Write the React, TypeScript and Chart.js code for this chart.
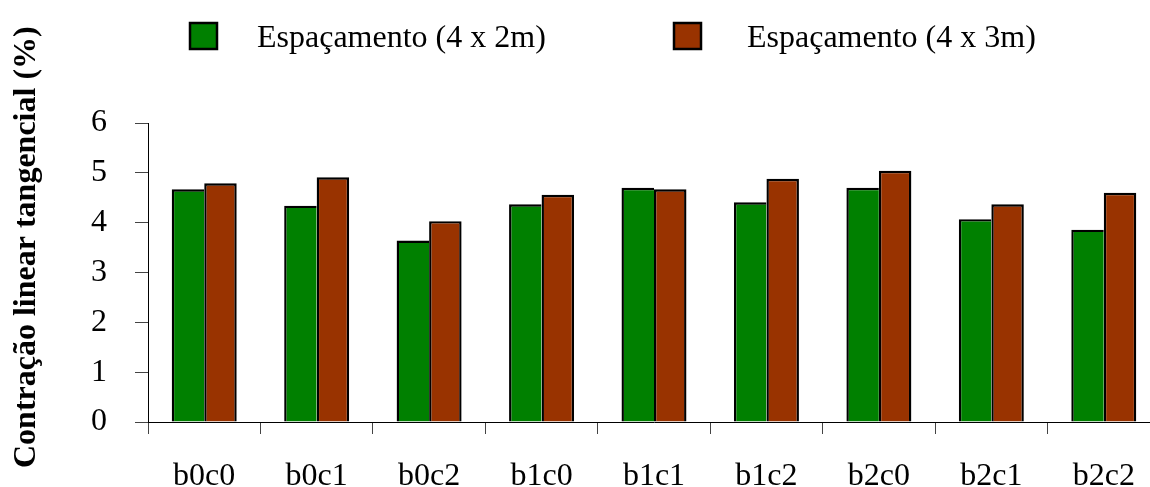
import React, { useEffect, useRef } from 'react';
import { Chart, registerables } from 'chart.js';

Chart.register(...registerables);

const categories = ['b0c0', 'b0c1', 'b0c2', 'b1c0', 'b1c1', 'b1c2', 'b2c0', 'b2c1', 'b2c2'];
const seriesLabels = ['Espaçamento (4 x 2m)', 'Espaçamento (4 x 3m)'];
const spacing4x2 = [4.67, 4.34, 3.64, 4.37, 4.70, 4.41, 4.70, 4.07, 3.86];
const spacing4x3 = [4.79, 4.91, 4.03, 4.56, 4.67, 4.88, 5.04, 4.37, 4.60];
const yTitle = 'Contração linear tangencial (%)';
const seriesColors = ['#008000', '#993300'];

const FONT = "'Liberation Serif', 'Times New Roman', serif";

const legendBoxX = [190, 674];
const legendTextX = [257, 747];

const customDecor = {
  id: 'customDecor',
  afterDraw(chart: any) {
    const ctx = chart.ctx;
    ctx.save();
    ctx.font = `32px ${FONT}`;
    ctx.textAlign = 'left';
    ctx.textBaseline = 'alphabetic';
    chart.data.datasets.forEach((ds: any, i: number) => {
      ctx.fillStyle = ds.backgroundColor;
      ctx.fillRect(legendBoxX[i], 23, 27, 26);
      ctx.lineWidth = 2.5;
      ctx.strokeStyle = '#000';
      ctx.strokeRect(legendBoxX[i], 23, 27, 26);
      ctx.fillStyle = '#000';
      ctx.fillText(ds.label, legendTextX[i], 47);
    });
    ctx.translate(34.5, 468);
    ctx.rotate(-Math.PI / 2);
    ctx.font = `bold 32px ${FONT}`;
    ctx.fillStyle = '#000';
    ctx.textAlign = 'left';
    ctx.fillText(yTitle, 0, 0);
    ctx.restore();
  },
};

export default function App() {
  const ref = useRef<HTMLCanvasElement>(null);
  useEffect(() => {
    if (!ref.current) return;
    const chart = new Chart(ref.current, {
      type: 'bar',
      data: {
        labels: categories,
        datasets: [
          {
            label: seriesLabels[0],
            data: spacing4x2,
            backgroundColor: seriesColors[0],
            borderColor: '#000',
            borderWidth: { top: 2.4, left: 2.4, right: 0, bottom: 0 },
            categoryPercentage: 0.578,
            barPercentage: 1,
          },
          {
            label: seriesLabels[1],
            data: spacing4x3,
            backgroundColor: seriesColors[1],
            borderColor: '#000',
            borderWidth: 2.4,
            borderSkipped: 'start',
            categoryPercentage: 0.578,
            barPercentage: 1,
          },
        ],
      },
      options: {
        animation: false,
        responsive: false,
        devicePixelRatio: 1,
        layout: { padding: { top: 123, left: 88, right: 0, bottom: 0 } },
        plugins: { legend: { display: false }, tooltip: { enabled: false }, title: { display: false } },
        scales: {
          x: {
            grid: { drawOnChartArea: false, drawTicks: true, tickLength: 12, offset: true, color: '#444' },
            border: { color: '#000', width: 1 },
            ticks: { font: { family: FONT, size: 32 }, color: '#000', padding: 23, maxRotation: 0 },
            afterFit(scale: any) { scale.height = 65; },
          },
          y: {
            min: 0,
            max: 6,
            grid: { drawOnChartArea: false, drawTicks: true, tickLength: 13, color: '#444' },
            border: { color: '#000', width: 1 },
            ticks: { stepSize: 1, font: { family: FONT, size: 32 }, color: '#000', padding: 28 },
            afterFit(scale: any) { scale.width = 60; },
          },
        },
      },
      plugins: [customDecor],
    });
    return () => chart.destroy();
  }, []);
  return (
    <div style={{ position: 'fixed', left: 0, top: 0, width: 1150, height: 487, overflow: 'hidden', background: '#fff' }}>
      <canvas ref={ref} width={1160} height={487} style={{ display: 'block', width: 1160, height: 487 }} />
    </div>
  );
}
